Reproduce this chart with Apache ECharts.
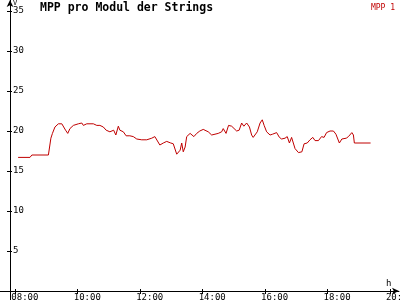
<!DOCTYPE html>
<html><head><meta charset="utf-8">
<script src="https://cdn.jsdelivr.net/npm/echarts@6/dist/echarts.min.js"></script>
<style>html,body{margin:0;padding:0;background:#fff}#c{width:400px;height:300px}</style>
</head><body><div id="c"></div>
<script>
const seriesName = 'MPP 1';
const hours = [8.09,8.47,8.53,9.06,9.09,9.14,9.19,9.27,9.38,9.49,9.54,9.61,9.68,9.75,9.86,10.02,10.13,10.18,10.29,10.50,10.61,10.71,10.77,10.82,10.91,11.03,11.15,11.22,11.30,11.35,11.46,11.55,11.67,11.78,11.89,11.94,12.05,12.21,12.37,12.47,12.53,12.63,12.74,12.85,12.90,12.98,13.06,13.17,13.28,13.33,13.38,13.44,13.49,13.60,13.65,13.72,13.81,13.91,14.02,14.18,14.29,14.34,14.50,14.61,14.66,14.75,14.83,14.93,14.98,15.09,15.17,15.25,15.32,15.41,15.50,15.57,15.62,15.68,15.75,15.84,15.91,15.97,16.05,16.16,16.24,16.37,16.46,16.53,16.64,16.71,16.78,16.85,16.96,17.07,17.18,17.25,17.35,17.44,17.53,17.60,17.71,17.81,17.89,17.97,18.08,18.19,18.27,18.38,18.46,18.60,18.67,18.78,18.83,18.86,19.38];
const values = [16.7,16.7,17.0,17.0,17.2,19.1,19.7,20.5,20.9,20.9,20.7,20.1,19.7,20.3,20.7,20.9,21.0,20.7,20.9,20.9,20.7,20.7,20.8,20.5,20.1,19.9,20.1,19.5,20.6,20.1,19.9,19.4,19.4,19.3,19.0,19.1,18.9,18.9,19.1,19.3,19.1,18.25,18.5,18.7,18.9,18.5,18.4,17.1,17.6,18.5,17.4,18.0,19.3,19.7,19.9,19.3,19.7,20.0,20.2,19.9,19.5,19.6,19.7,19.9,20.3,19.7,20.7,20.6,20.6,20.0,20.1,21.0,20.6,21.0,20.5,19.5,19.2,19.4,19.9,21.0,21.4,20.7,19.9,19.5,19.6,19.8,19.2,19.0,19.1,19.3,18.5,19.2,17.8,17.3,17.4,18.4,18.5,18.9,19.2,18.8,18.8,19.3,19.2,19.8,20.0,20.0,19.6,18.5,19.0,19.1,19.3,19.8,19.5,18.5,18.5];
const xTickHours = [8,10,12,14,16,18,20];
const yTickValues = [5,10,15,20,25,30,35];
const titleText = 'MPP pro Modul der Strings';

const mono = 'DejaVu Sans Mono';
const lineColor = '#c00000';
const labelShift = 0.128;
const pad = n => (n < 10 ? '0' : '') + n;

const chart = echarts.init(document.getElementById('c'), null, {renderer:'canvas'});
chart.setOption({
  animation:false,
  backgroundColor:'#fff',
  title:{text:titleText,left:40,top:2,padding:0,
    textStyle:{fontFamily:mono,fontSize:11.5,fontWeight:'bold',color:'#000'}},
  legend:{data:[seriesName],right:5,top:1,padding:0,icon:'none',itemWidth:0,itemGap:0,
    textStyle:{fontFamily:mono,fontSize:8,color:lineColor,padding:0}},
  grid:{left:0,right:1,top:0,bottom:0,containLabel:false,outerBoundsMode:'none'},
  xAxis:[{
    type:'value',min:7.51,max:20.29,position:'bottom',
    name:'h',nameLocation:'end',nameGap:-13,
    nameTextStyle:{fontFamily:mono,fontSize:9,color:'#000',align:'left',verticalAlign:'bottom',padding:[0,0,3,0]},
    axisLine:{onZero:true,lineStyle:{color:'#000',width:1},symbol:['none','arrow'],symbolSize:[5,7]},
    axisTick:{show:true,inside:false,length:3,customValues:xTickHours,lineStyle:{color:'#000'}},
    axisLabel:{show:true,customValues:xTickHours.map(h=>h-labelShift),align:'left',margin:-7,
      verticalAlign:'top',fontFamily:mono,fontSize:9,color:'#000',hideOverlap:false,
      formatter:v=>pad(Math.round(v+labelShift))+':00'},
    splitLine:{show:false}
  },{
    type:'value',min:7.51,max:20.29,position:'bottom',
    axisLine:{show:false,onZero:true},
    axisTick:{show:true,inside:true,length:2,customValues:xTickHours,lineStyle:{color:'#000'}},
    axisLabel:{show:false},splitLine:{show:false}
  }],
  yAxis:[{
    type:'value',min:-1.125,max:36.375,position:'left',offset:-10,
    name:'V',nameLocation:'end',nameGap:0,
    nameTextStyle:{fontFamily:mono,fontSize:7,color:'#000',align:'left',verticalAlign:'top',padding:[0,0,0,3]},
    axisLine:{show:true,onZero:false,lineStyle:{color:'#000',width:1},symbol:['none','arrow'],symbolSize:[5,7]},
    axisTick:{show:true,inside:false,length:3,customValues:yTickValues,lineStyle:{color:'#000'}},
    axisLabel:{show:true,inside:true,margin:3,customValues:yTickValues,
      fontFamily:mono,fontSize:9,color:'#000'},
    splitLine:{show:false}
  },{
    type:'value',min:-1.125,max:36.375,position:'left',offset:-10,
    axisLine:{show:false,onZero:false},
    axisTick:{show:true,inside:true,length:2,customValues:yTickValues,lineStyle:{color:'#000'}},
    axisLabel:{show:false},splitLine:{show:false}
  }],
  series:[{
    name:seriesName,type:'line',xAxisIndex:0,yAxisIndex:0,
    data:hours.map((h,i)=>[h,values[i]]),
    showSymbol:false,symbol:'none',
    lineStyle:{color:lineColor,width:1},itemStyle:{color:lineColor}
  }]
});
</script></body></html>
